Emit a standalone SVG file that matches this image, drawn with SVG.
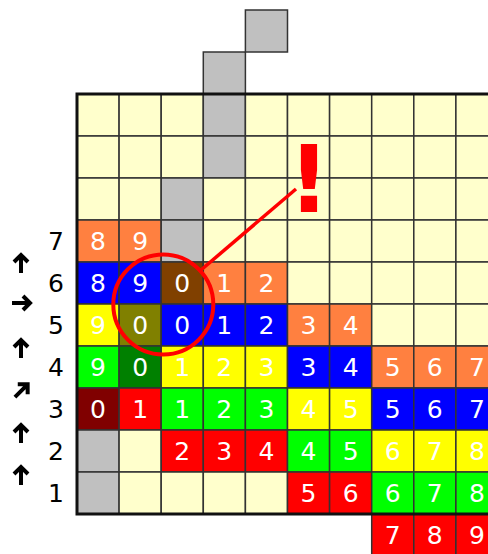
<svg xmlns="http://www.w3.org/2000/svg" width="488" height="554" viewBox="0 0 488 554">
<style>
rect{stroke:#333;stroke-width:1.5}
.L{fill:#FFFFCC}.G{fill:#C0C0C0}.O{fill:#FF8040}.B{fill:#0000FF}.Br{fill:#804000}.Y{fill:#FFFF00}.Ol{fill:#808000}.Gr{fill:#00FF00}.DG{fill:#008000}.DR{fill:#800000}.R{fill:#FF0000}
.n{font-family:"DejaVu Sans",Verdana,sans-serif;font-size:25px;fill:#fff;text-anchor:middle}
.lb{font-family:"DejaVu Sans",Verdana,sans-serif;font-size:25px;fill:#000;text-anchor:middle}
.ar{fill:none;stroke:#000;stroke-width:4;stroke-linejoin:miter}
</style>
<defs>
<g id="arr"><path class="ar" d="M0,10V-7M-7,-1L0,-8L7,-1"/></g>
</defs>
<rect x="0" y="0" width="488" height="554" style="fill:#fff;stroke:none"/>
<g id="above">
<rect class="G" x="203.3" y="52" width="42.1" height="42"/>
<rect class="G" x="245.4" y="10" width="42.1" height="42"/>
</g>
<g id="row0">
<rect class="L" x="77" y="94" width="42.1" height="42"/><rect class="L" x="119.1" y="94" width="42.1" height="42"/><rect class="L" x="161.2" y="94" width="42.1" height="42"/><rect class="G" x="203.3" y="94" width="42.1" height="42"/><rect class="L" x="245.4" y="94" width="42.1" height="42"/><rect class="L" x="287.5" y="94" width="42.1" height="42"/><rect class="L" x="329.6" y="94" width="42.1" height="42"/><rect class="L" x="371.7" y="94" width="42.1" height="42"/><rect class="L" x="413.8" y="94" width="42.1" height="42"/><rect class="L" x="455.9" y="94" width="42.1" height="42"/>
</g>
<g id="row1">
<rect class="L" x="77" y="136" width="42.1" height="42"/><rect class="L" x="119.1" y="136" width="42.1" height="42"/><rect class="L" x="161.2" y="136" width="42.1" height="42"/><rect class="G" x="203.3" y="136" width="42.1" height="42"/><rect class="L" x="245.4" y="136" width="42.1" height="42"/><rect class="L" x="287.5" y="136" width="42.1" height="42"/><rect class="L" x="329.6" y="136" width="42.1" height="42"/><rect class="L" x="371.7" y="136" width="42.1" height="42"/><rect class="L" x="413.8" y="136" width="42.1" height="42"/><rect class="L" x="455.9" y="136" width="42.1" height="42"/>
</g>
<g id="row2">
<rect class="L" x="77" y="178" width="42.1" height="42"/><rect class="L" x="119.1" y="178" width="42.1" height="42"/><rect class="G" x="161.2" y="178" width="42.1" height="42"/><rect class="L" x="203.3" y="178" width="42.1" height="42"/><rect class="L" x="245.4" y="178" width="42.1" height="42"/><rect class="L" x="287.5" y="178" width="42.1" height="42"/><rect class="L" x="329.6" y="178" width="42.1" height="42"/><rect class="L" x="371.7" y="178" width="42.1" height="42"/><rect class="L" x="413.8" y="178" width="42.1" height="42"/><rect class="L" x="455.9" y="178" width="42.1" height="42"/>
</g>
<g id="row3">
<rect class="O" x="77" y="220" width="42.1" height="42"/><rect class="O" x="119.1" y="220" width="42.1" height="42"/><rect class="G" x="161.2" y="220" width="42.1" height="42"/><rect class="L" x="203.3" y="220" width="42.1" height="42"/><rect class="L" x="245.4" y="220" width="42.1" height="42"/><rect class="L" x="287.5" y="220" width="42.1" height="42"/><rect class="L" x="329.6" y="220" width="42.1" height="42"/><rect class="L" x="371.7" y="220" width="42.1" height="42"/><rect class="L" x="413.8" y="220" width="42.1" height="42"/><rect class="L" x="455.9" y="220" width="42.1" height="42"/>
<text class="n" x="98" y="250">8</text><text class="n" x="140.1" y="250">9</text>
</g>
<g id="row4">
<rect class="B" x="77" y="262" width="42.1" height="42"/><rect class="B" x="119.1" y="262" width="42.1" height="42"/><rect class="Br" x="161.2" y="262" width="42.1" height="42"/><rect class="O" x="203.3" y="262" width="42.1" height="42"/><rect class="O" x="245.4" y="262" width="42.1" height="42"/><rect class="L" x="287.5" y="262" width="42.1" height="42"/><rect class="L" x="329.6" y="262" width="42.1" height="42"/><rect class="L" x="371.7" y="262" width="42.1" height="42"/><rect class="L" x="413.8" y="262" width="42.1" height="42"/><rect class="L" x="455.9" y="262" width="42.1" height="42"/>
<text class="n" x="98" y="292">8</text><text class="n" x="140.1" y="292">9</text><text class="n" x="182.2" y="292">0</text><text class="n" x="224.3" y="292">1</text><text class="n" x="266.4" y="292">2</text>
</g>
<g id="row5">
<rect class="Y" x="77" y="304" width="42.1" height="42"/><rect class="Ol" x="119.1" y="304" width="42.1" height="42"/><rect class="B" x="161.2" y="304" width="42.1" height="42"/><rect class="B" x="203.3" y="304" width="42.1" height="42"/><rect class="B" x="245.4" y="304" width="42.1" height="42"/><rect class="O" x="287.5" y="304" width="42.1" height="42"/><rect class="O" x="329.6" y="304" width="42.1" height="42"/><rect class="L" x="371.7" y="304" width="42.1" height="42"/><rect class="L" x="413.8" y="304" width="42.1" height="42"/><rect class="L" x="455.9" y="304" width="42.1" height="42"/>
<text class="n" x="98" y="334">9</text><text class="n" x="140.1" y="334">0</text><text class="n" x="182.2" y="334">0</text><text class="n" x="224.3" y="334">1</text><text class="n" x="266.4" y="334">2</text><text class="n" x="308.5" y="334">3</text><text class="n" x="350.6" y="334">4</text>
</g>
<g id="row6">
<rect class="Gr" x="77" y="346" width="42.1" height="42"/><rect class="DG" x="119.1" y="346" width="42.1" height="42"/><rect class="Y" x="161.2" y="346" width="42.1" height="42"/><rect class="Y" x="203.3" y="346" width="42.1" height="42"/><rect class="Y" x="245.4" y="346" width="42.1" height="42"/><rect class="B" x="287.5" y="346" width="42.1" height="42"/><rect class="B" x="329.6" y="346" width="42.1" height="42"/><rect class="O" x="371.7" y="346" width="42.1" height="42"/><rect class="O" x="413.8" y="346" width="42.1" height="42"/><rect class="O" x="455.9" y="346" width="42.1" height="42"/>
<text class="n" x="98" y="376">9</text><text class="n" x="140.1" y="376">0</text><text class="n" x="182.2" y="376">1</text><text class="n" x="224.3" y="376">2</text><text class="n" x="266.4" y="376">3</text><text class="n" x="308.5" y="376">3</text><text class="n" x="350.6" y="376">4</text><text class="n" x="392.7" y="376">5</text><text class="n" x="434.8" y="376">6</text><text class="n" x="476.9" y="376">7</text>
</g>
<g id="row7">
<rect class="DR" x="77" y="388" width="42.1" height="42"/><rect class="R" x="119.1" y="388" width="42.1" height="42"/><rect class="Gr" x="161.2" y="388" width="42.1" height="42"/><rect class="Gr" x="203.3" y="388" width="42.1" height="42"/><rect class="Gr" x="245.4" y="388" width="42.1" height="42"/><rect class="Y" x="287.5" y="388" width="42.1" height="42"/><rect class="Y" x="329.6" y="388" width="42.1" height="42"/><rect class="B" x="371.7" y="388" width="42.1" height="42"/><rect class="B" x="413.8" y="388" width="42.1" height="42"/><rect class="B" x="455.9" y="388" width="42.1" height="42"/>
<text class="n" x="98" y="418">0</text><text class="n" x="140.1" y="418">1</text><text class="n" x="182.2" y="418">1</text><text class="n" x="224.3" y="418">2</text><text class="n" x="266.4" y="418">3</text><text class="n" x="308.5" y="418">4</text><text class="n" x="350.6" y="418">5</text><text class="n" x="392.7" y="418">5</text><text class="n" x="434.8" y="418">6</text><text class="n" x="476.9" y="418">7</text>
</g>
<g id="row8">
<rect class="G" x="77" y="430" width="42.1" height="42"/><rect class="L" x="119.1" y="430" width="42.1" height="42"/><rect class="R" x="161.2" y="430" width="42.1" height="42"/><rect class="R" x="203.3" y="430" width="42.1" height="42"/><rect class="R" x="245.4" y="430" width="42.1" height="42"/><rect class="Gr" x="287.5" y="430" width="42.1" height="42"/><rect class="Gr" x="329.6" y="430" width="42.1" height="42"/><rect class="Y" x="371.7" y="430" width="42.1" height="42"/><rect class="Y" x="413.8" y="430" width="42.1" height="42"/><rect class="Y" x="455.9" y="430" width="42.1" height="42"/>
<text class="n" x="182.2" y="460">2</text><text class="n" x="224.3" y="460">3</text><text class="n" x="266.4" y="460">4</text><text class="n" x="308.5" y="460">4</text><text class="n" x="350.6" y="460">5</text><text class="n" x="392.7" y="460">6</text><text class="n" x="434.8" y="460">7</text><text class="n" x="476.9" y="460">8</text>
</g>
<g id="row9">
<rect class="G" x="77" y="472" width="42.1" height="42"/><rect class="L" x="119.1" y="472" width="42.1" height="42"/><rect class="L" x="161.2" y="472" width="42.1" height="42"/><rect class="L" x="203.3" y="472" width="42.1" height="42"/><rect class="L" x="245.4" y="472" width="42.1" height="42"/><rect class="R" x="287.5" y="472" width="42.1" height="42"/><rect class="R" x="329.6" y="472" width="42.1" height="42"/><rect class="Gr" x="371.7" y="472" width="42.1" height="42"/><rect class="Gr" x="413.8" y="472" width="42.1" height="42"/><rect class="Gr" x="455.9" y="472" width="42.1" height="42"/>
<text class="n" x="308.5" y="502">5</text><text class="n" x="350.6" y="502">6</text><text class="n" x="392.7" y="502">6</text><text class="n" x="434.8" y="502">7</text><text class="n" x="476.9" y="502">8</text>
</g>
<g id="row10">
<rect class="R" x="371.7" y="514" width="42.1" height="42"/><rect class="R" x="413.8" y="514" width="42.1" height="42"/><rect class="R" x="455.9" y="514" width="42.1" height="42"/>
<text class="n" x="392.7" y="544">7</text><text class="n" x="434.8" y="544">8</text><text class="n" x="476.9" y="544">9</text>
</g>
<rect x="77" y="94" width="421" height="420" style="fill:none;stroke:#111;stroke-width:3"/>
<g id="labels">
<text class="lb" x="56" y="250">7</text><text class="lb" x="56" y="292">6</text><text class="lb" x="56" y="334">5</text><text class="lb" x="56" y="376">4</text><text class="lb" x="56" y="418">3</text><text class="lb" x="56" y="460">2</text><text class="lb" x="56" y="502">1</text>
</g>
<g id="arrows">
<use href="#arr" transform="translate(21,263)"/>
<use href="#arr" transform="translate(22,303) rotate(90)"/>
<use href="#arr" transform="translate(21,348)"/>
<use href="#arr" transform="translate(22,390) rotate(45)"/>
<use href="#arr" transform="translate(21,433)"/>
<use href="#arr" transform="translate(21,475)"/>
</g>
<g id="connectors">
<circle cx="163.3" cy="304.5" r="50" fill="none" stroke="#FF0000" stroke-width="4"/>
<line x1="201" y1="270" x2="296" y2="189" stroke="#FF0000" stroke-width="3.5"/>
</g>
<g id="exclaim">
<text x="309" y="212" font-family="DejaVu Sans,sans-serif" font-weight="bold" font-size="92" fill="#FF0000" text-anchor="middle">!</text>
</g>
</svg>
